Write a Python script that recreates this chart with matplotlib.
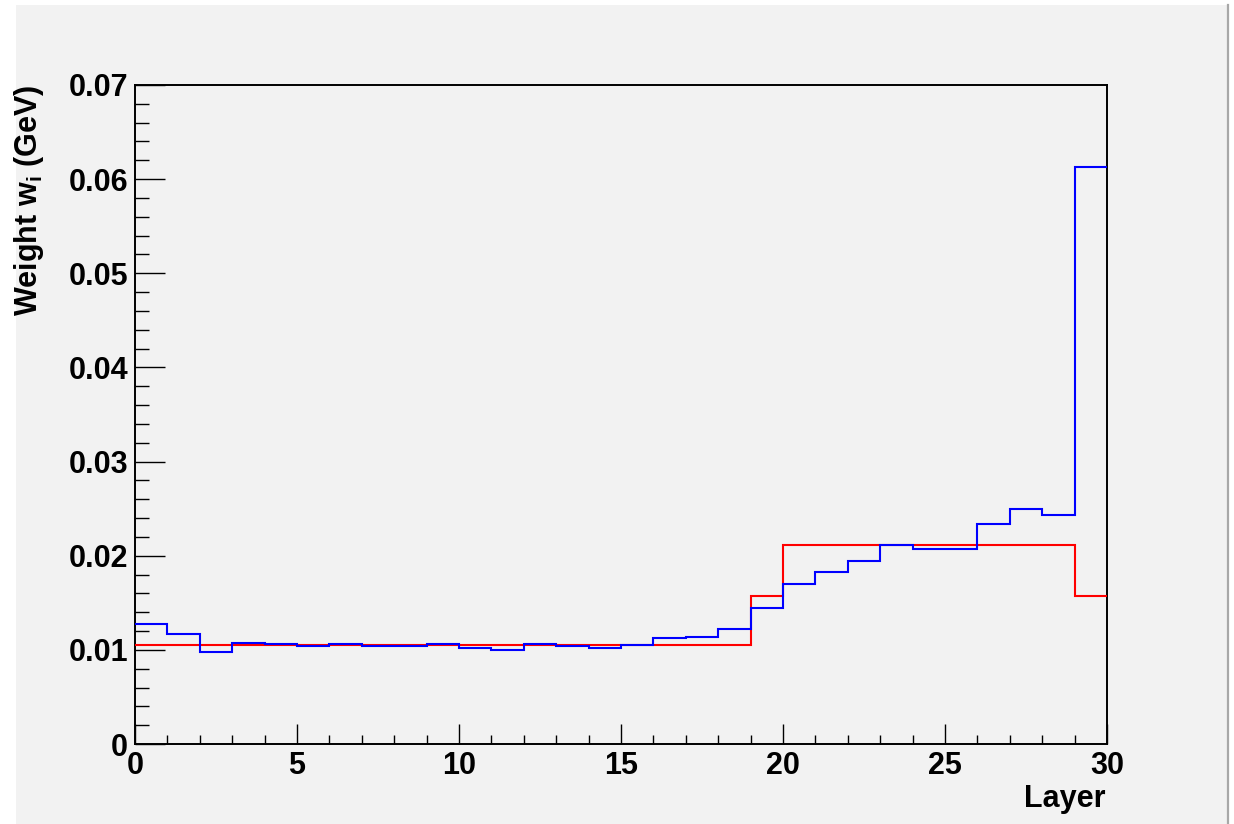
import matplotlib
matplotlib.use("Agg")
import matplotlib.pyplot as plt
from matplotlib.patches import Rectangle
from matplotlib.lines import Line2D
from matplotlib.ticker import MultipleLocator
import numpy as np

# ---- data ----
layer_edges = list(range(0, 31))
original_weights = [0.0105] * 19 + [0.0157] + [0.0211] * 9 + [0.0157]
optimised_weights = [0.01275, 0.0117, 0.0098, 0.0107, 0.0106, 0.0104, 0.0106, 0.0104,
                     0.0104, 0.0106, 0.0102, 0.0100, 0.0106, 0.0104, 0.0102, 0.0105,
                     0.0113, 0.0114, 0.0122, 0.0144, 0.0170, 0.0183, 0.0194, 0.0211,
                     0.0207, 0.0207, 0.0234, 0.0250, 0.0243, 0.0613]
x_ticks = [0, 5, 10, 15, 20, 25, 30]
y_ticks = [0, 0.01, 0.02, 0.03, 0.04, 0.05, 0.06, 0.07]
y_tick_labels = ["0", "0.01", "0.02", "0.03", "0.04", "0.05", "0.06", "0.07"]
legend_texts = ["Original weights", "Optimised weights"]

plt.rcParams['mathtext.fontset'] = 'custom'
plt.rcParams['mathtext.rm'] = 'Liberation Sans:bold'
plt.rcParams['mathtext.it'] = 'Liberation Sans:bold'
plt.rcParams['mathtext.bf'] = 'Liberation Sans:bold'

W, H = 1234, 824
fig = plt.figure(figsize=(W / 100, H / 100), dpi=100, facecolor='white')

# canvas background
fig.patches.append(Rectangle((16 / W, 0), (1227 - 16) / W, (H - 5) / H,
                             transform=fig.transFigure, facecolor='#f2f2f2',
                             edgecolor='none', zorder=-10))
fig.lines.append(Line2D([1227.5 / W, 1227.5 / W], [0, (H - 5) / H],
                        transform=fig.transFigure, color='#a8a8a8', lw=1.6, zorder=-5))

left, right, top, bottom = 135, 1107, 85, 744
ax = fig.add_axes([left / W, 1 - bottom / H, (right - left) / W, (bottom - top) / H])
ax.set_zorder(5)
ax.set_facecolor('#f2f2f2')

edges = np.array(layer_edges)
ax.stairs(original_weights, edges, color='#ff0000', lw=1.5, baseline=None, zorder=3)
ax.stairs(optimised_weights, edges, color='#0000ff', lw=1.5, baseline=None, zorder=4)

ax.set_xlim(0, 30)
ax.set_ylim(0, 0.07)

ax.set_xticks(x_ticks)
ax.set_xticklabels([str(t) for t in x_ticks])
ax.set_yticks(y_ticks)
ax.set_yticklabels(y_tick_labels)
ax.xaxis.set_minor_locator(MultipleLocator(1))
ax.yaxis.set_minor_locator(MultipleLocator(0.002))

FS = 22
tick_font = dict(family='Liberation Sans', weight='bold', size=FS)
for lab in ax.get_xticklabels() + ax.get_yticklabels():
    lab.set_fontfamily('Liberation Sans')
    lab.set_fontweight('bold')
    lab.set_fontsize(FS)

ax.tick_params(axis='x', which='major', direction='in', length=14.4, width=1.0,
               pad=5, top=False, colors='black')
ax.tick_params(axis='x', which='minor', direction='in', length=6.5, width=1.0, top=False)
ax.tick_params(axis='y', which='major', direction='in', length=21.6, width=1.0,
               pad=5, right=False)
ax.tick_params(axis='y', which='minor', direction='in', length=10.4, width=1.0, right=False)

for s in ax.spines.values():
    s.set_linewidth(1.4)
    s.set_color('black')

# axis titles
fig.text(1106 / W, 17 / H, "Layer", ha='right', va='baseline', **tick_font)
fig.text(29 / W, 1 - 85 / H, r"Weight w$_\mathrm{i}$ (GeV)", rotation=90,
         ha='center', va='top', **tick_font)

# legend texts
fig.text(237 / W, 1 - 238 / H, legend_texts[0], color='#ff0000',
         family='Liberation Serif', size=38, ha='left', va='baseline')
fig.text(237 / W, 1 - 312 / H, legend_texts[1], color='#0000ee',
         family='Liberation Serif', size=38, ha='left', va='baseline')

fig.savefig("out.png", dpi=100, facecolor='white')
